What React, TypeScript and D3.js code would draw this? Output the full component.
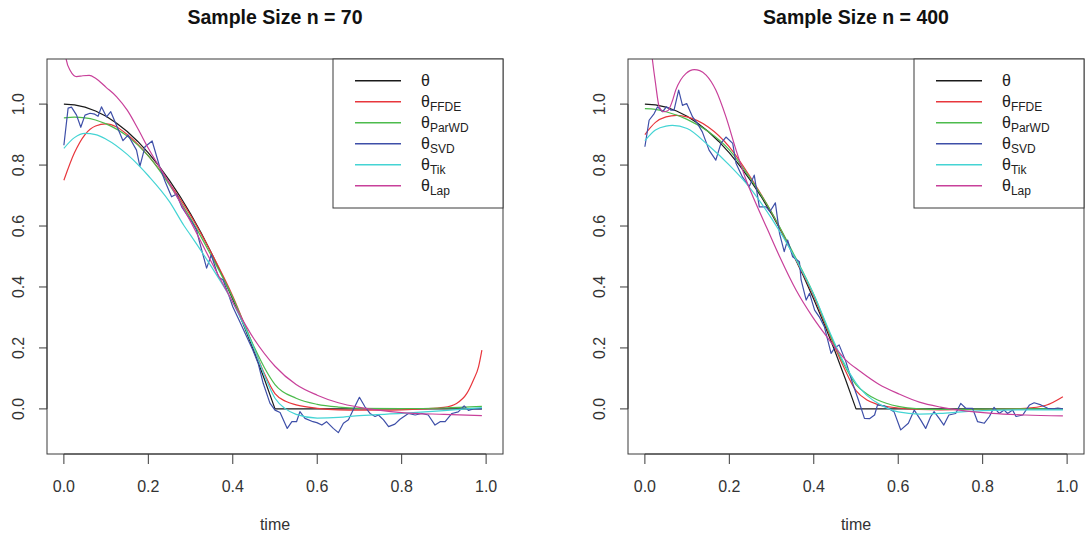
import React from "react";
import * as d3 from "d3";

type P = [number, number];

const xTickValues = [0, 0.2, 0.4, 0.6, 0.8, 1.0];
const yTickValues = [0, 0.2, 0.4, 0.6, 0.8, 1.0];
const panelTitles = ["Sample Size n = 70", "Sample Size n = 400"];
const xLabel = "time";
const legendBase = "θ";
const legendSubs = ["", "FFDE", "ParWD", "SVD", "Tik", "Lap"];
const seriesColors = ["#1a1a1a", "#e8363c", "#4cbb4c", "#3e4fa8", "#44d4d4", "#c8409a"];

// true function theta
const theta: P[] = [
  [0, 1], [0.025, 0.9975], [0.05, 0.99], [0.075, 0.9775], [0.1, 0.96], [0.125, 0.9375],
  [0.15, 0.91], [0.175, 0.8775], [0.2, 0.84], [0.225, 0.7975], [0.25, 0.75], [0.275, 0.6975],
  [0.3, 0.64], [0.325, 0.5775], [0.35, 0.51], [0.375, 0.4375], [0.4, 0.36], [0.425, 0.2775],
  [0.45, 0.19], [0.475, 0.0975], [0.5, 0], [0.99, 0],
];

// ---- n = 70 ----
const ffde70: P[] = [
  [0, 0.75], [0.025, 0.84], [0.05, 0.9], [0.075, 0.928], [0.1, 0.935], [0.125, 0.925],
  [0.15, 0.9], [0.2, 0.83], [0.25, 0.74], [0.3, 0.635], [0.35, 0.51], [0.4, 0.37],
  [0.45, 0.2], [0.475, 0.115], [0.5, 0.05], [0.525, 0.025], [0.55, 0.013], [0.6, 0.002],
  [0.65, -0.003], [0.7, -0.004], [0.75, -0.004], [0.8, -0.003], [0.85, 0], [0.9, 0.005],
  [0.93, 0.018], [0.954, 0.05], [0.97, 0.095], [0.982, 0.138], [0.99, 0.193],
];
const parwd70: P[] = [
  [0, 0.955], [0.025, 0.957], [0.05, 0.955], [0.075, 0.948], [0.1, 0.935], [0.15, 0.895],
  [0.2, 0.83], [0.25, 0.735], [0.3, 0.625], [0.35, 0.5], [0.4, 0.365], [0.45, 0.205],
  [0.475, 0.135], [0.5, 0.08], [0.55, 0.035], [0.6, 0.015], [0.65, 0.006], [0.7, 0.002],
  [0.8, 0.001], [0.9, 0.003], [0.99, 0.008],
];
const svd70: P[] = [
  [0.0, 0.865], [0.01, 0.987], [0.018, 0.99], [0.03, 0.964], [0.04, 0.924], [0.05, 0.964],
  [0.062, 0.97], [0.073, 0.967], [0.081, 0.96], [0.089, 0.991], [0.101, 0.958], [0.111, 0.975],
  [0.121, 0.942], [0.14, 0.88], [0.152, 0.898], [0.172, 0.849], [0.18, 0.796], [0.192, 0.86],
  [0.209, 0.879], [0.227, 0.794], [0.24, 0.745], [0.255, 0.696], [0.267, 0.705], [0.279, 0.663],
  [0.29, 0.64], [0.303, 0.614], [0.314, 0.587], [0.322, 0.544], [0.338, 0.462], [0.349, 0.505],
  [0.366, 0.433], [0.377, 0.423], [0.39, 0.375], [0.4, 0.335], [0.417, 0.285], [0.433, 0.237],
  [0.447, 0.195], [0.46, 0.15], [0.472, 0.084], [0.488, 0.019], [0.5, -0.004], [0.512, -0.012],
  [0.529, -0.064], [0.54, -0.042], [0.551, -0.042], [0.559, -0.009], [0.571, -0.031], [0.59, -0.042],
  [0.599, -0.045], [0.611, -0.053], [0.622, -0.042], [0.638, -0.064], [0.65, -0.078], [0.662, -0.047],
  [0.674, -0.036], [0.685, -0.004], [0.7, 0.038], [0.713, 0.007], [0.725, -0.015], [0.737, -0.025],
  [0.745, -0.02], [0.757, -0.036], [0.769, -0.058], [0.784, -0.05], [0.796, -0.034], [0.816, -0.015],
  [0.832, -0.02], [0.848, -0.015], [0.863, -0.02], [0.879, -0.053], [0.891, -0.042], [0.903, -0.042],
  [0.919, -0.015], [0.934, -0.01], [0.948, 0.01], [0.958, -0.005], [0.97, 0.0], [0.99, 0.0],
];
const tik70: P[] = [
  [0, 0.855], [0.025, 0.89], [0.05, 0.904], [0.075, 0.9], [0.1, 0.885], [0.15, 0.835],
  [0.18, 0.795], [0.2, 0.765], [0.25, 0.68], [0.285, 0.6], [0.3, 0.57], [0.35, 0.465],
  [0.4, 0.35], [0.45, 0.2], [0.475, 0.11], [0.5, 0.035], [0.525, 0.0], [0.55, -0.018],
  [0.6, -0.03], [0.65, -0.028], [0.7, -0.022], [0.8, -0.015], [0.9, -0.006], [0.99, 0.004],
];
const lap70: P[] = [
  [0, 1.2], [0.005, 1.15], [0.015, 1.11], [0.03, 1.09], [0.045, 1.093], [0.06, 1.094],
  [0.075, 1.085], [0.1, 1.055], [0.125, 1.024], [0.15, 0.98], [0.175, 0.92], [0.2, 0.855],
  [0.25, 0.74], [0.3, 0.615], [0.35, 0.48], [0.4, 0.35], [0.45, 0.23], [0.5, 0.14],
  [0.55, 0.08], [0.6, 0.045], [0.65, 0.02], [0.7, 0.005], [0.75, -0.005], [0.8, -0.012],
  [0.9, -0.018], [0.99, -0.022],
];

// ---- n = 400 ----
const ffde400: P[] = [
  [0, 0.9], [0.025, 0.94], [0.05, 0.958], [0.075, 0.963], [0.1, 0.958], [0.15, 0.925],
  [0.2, 0.86], [0.25, 0.76], [0.3, 0.645], [0.35, 0.51], [0.4, 0.37], [0.44, 0.235],
  [0.47, 0.14], [0.5, 0.06], [0.525, 0.03], [0.55, 0.015], [0.6, 0.003], [0.65, -0.002],
  [0.7, -0.003], [0.8, -0.002], [0.9, 0.002], [0.95, 0.012], [0.99, 0.04],
];
const parwd400: P[] = [
  [0, 0.985], [0.025, 0.983], [0.05, 0.975], [0.1, 0.95], [0.15, 0.91], [0.2, 0.85],
  [0.25, 0.755], [0.3, 0.645], [0.35, 0.515], [0.4, 0.375], [0.44, 0.24], [0.47, 0.15],
  [0.5, 0.08], [0.525, 0.05], [0.55, 0.03], [0.6, 0.008], [0.65, 0.0], [0.7, -0.002],
  [0.8, -0.001], [0.9, 0.0], [0.99, 0.0],
];
const svd400: P[] = [
  [0, 0.86], [0.01, 0.947], [0.022, 0.969], [0.03, 0.991], [0.042, 0.975], [0.051, 0.991],
  [0.062, 0.98], [0.069, 0.98], [0.08, 1.046], [0.089, 0.996], [0.099, 1.002], [0.113, 0.958],
  [0.125, 0.935], [0.136, 0.909], [0.152, 0.849], [0.168, 0.816], [0.18, 0.871], [0.192, 0.892],
  [0.208, 0.871], [0.216, 0.805], [0.231, 0.761], [0.247, 0.729], [0.259, 0.767], [0.271, 0.663],
  [0.287, 0.663], [0.296, 0.647], [0.309, 0.676], [0.319, 0.575], [0.33, 0.516], [0.338, 0.554],
  [0.35, 0.499], [0.366, 0.483], [0.37, 0.423], [0.382, 0.357], [0.39, 0.379], [0.402, 0.324],
  [0.413, 0.302], [0.425, 0.27], [0.441, 0.182], [0.449, 0.199], [0.46, 0.21], [0.476, 0.155],
  [0.492, 0.084], [0.508, 0.02], [0.52, -0.031], [0.532, -0.032], [0.544, -0.02], [0.551, 0.013],
  [0.567, 0.01], [0.579, 0.0], [0.59, -0.009], [0.606, -0.069], [0.624, -0.047], [0.638, -0.004],
  [0.653, -0.036], [0.665, -0.064], [0.677, -0.025], [0.685, -0.009], [0.697, -0.031], [0.708, -0.053],
  [0.72, -0.02], [0.736, -0.015], [0.748, 0.018], [0.76, 0.002], [0.776, 0.002], [0.788, -0.042],
  [0.804, -0.047], [0.816, -0.025], [0.827, 0.005], [0.839, -0.015], [0.851, -0.004], [0.859, -0.015],
  [0.871, -0.004], [0.879, -0.025], [0.895, -0.02], [0.911, 0.013], [0.922, 0.02], [0.938, 0.013],
  [0.954, 0.002], [0.966, 0.0], [0.978, 0.003], [0.99, 0.0],
];
const tik400: P[] = [
  [0, 0.88], [0.025, 0.915], [0.05, 0.928], [0.065, 0.93], [0.1, 0.92], [0.15, 0.865],
  [0.2, 0.8], [0.24, 0.74], [0.3, 0.625], [0.35, 0.51], [0.4, 0.375], [0.44, 0.245],
  [0.47, 0.155], [0.5, 0.085], [0.525, 0.045], [0.55, 0.02], [0.6, -0.01], [0.65, -0.017],
  [0.7, -0.015], [0.75, -0.01], [0.8, -0.006], [0.9, -0.003], [0.99, -0.003],
];
const lap400: P[] = [
  [0, 1.4], [0.018, 1.144], [0.025, 1.07], [0.034, 0.991], [0.045, 0.975], [0.054, 0.978],
  [0.065, 1.01], [0.073, 1.046], [0.085, 1.08], [0.097, 1.1], [0.117, 1.113], [0.13, 1.11],
  [0.145, 1.095], [0.168, 1.046], [0.192, 0.958], [0.216, 0.849], [0.24, 0.75], [0.263, 0.674],
  [0.29, 0.59], [0.319, 0.5], [0.358, 0.39], [0.397, 0.302], [0.437, 0.226], [0.476, 0.16],
  [0.508, 0.125], [0.555, 0.08], [0.6, 0.05], [0.65, 0.022], [0.7, 0.006], [0.745, -0.004],
  [0.823, -0.015], [0.9, -0.02], [0.99, -0.023],
];

const W = 1087;
const H = 541;
const TOP = 59;
const BOTTOM = 454;
const FONT = "'Liberation Sans', Arial, Helvetica, sans-serif";
const AXIS_COLOR = "#3a3a3a";

const panels = [
  { left: 47, right: 503, title: panelTitles[0], series: [theta, ffde70, parwd70, svd70, tik70, lap70] },
  { left: 628, right: 1084, title: panelTitles[1], series: [theta, ffde400, parwd400, svd400, tik400, lap400] },
];

function Panel({ p, idx }: { p: (typeof panels)[number]; idx: number }) {
  const x = d3.scaleLinear().domain([-0.04, 1.04]).range([p.left, p.right]);
  const y = d3.scaleLinear().domain([-0.148, 1.148]).range([BOTTOM, TOP]);
  const clipId = `clip-${idx}`;
  const cx = (p.left + p.right) / 2;
  const legW = 170;
  const legX = p.right - legW;
  const legH = 149;
  return (
    <g>
      <defs>
        <clipPath id={clipId}>
          <rect x={p.left} y={TOP} width={p.right - p.left} height={BOTTOM - TOP} />
        </clipPath>
      </defs>
      <text x={cx} y={24} textAnchor="middle" fontFamily={FONT} fontWeight="bold" fontSize={19.5} fill="#111">
        {p.title}
      </text>
      <g clipPath={`url(#${clipId})`}>
        {p.series.map((s, i) => {
          const gen = d3
            .line<P>()
            .x((d) => x(d[0]))
            .y((d) => y(d[1]))
            .curve(i === 0 || i === 3 ? d3.curveLinear : d3.curveMonotoneX);
          return (
            <path key={i} d={gen(s) || ""} fill="none" stroke={seriesColors[i]} strokeWidth={1.2} strokeLinejoin="round" />
          );
        })}
      </g>
      <rect x={p.left} y={TOP} width={p.right - p.left} height={BOTTOM - TOP} fill="none" stroke={AXIS_COLOR} strokeWidth={1} />
      {/* x axis */}
      <line x1={x(0)} x2={x(1)} y1={BOTTOM} y2={BOTTOM} stroke={AXIS_COLOR} />
      {xTickValues.map((t) => (
        <g key={t}>
          <line x1={x(t)} x2={x(t)} y1={BOTTOM} y2={BOTTOM + 10} stroke={AXIS_COLOR} />
          <text x={x(t)} y={492} textAnchor="middle" fontFamily={FONT} fontSize={16} fill="#333">
            {t.toFixed(1)}
          </text>
        </g>
      ))}
      <text x={cx} y={530} textAnchor="middle" fontFamily={FONT} fontSize={16} fill="#333">
        {xLabel}
      </text>
      {/* y axis */}
      <line x1={p.left} x2={p.left} y1={y(0)} y2={y(1)} stroke={AXIS_COLOR} />
      {yTickValues.map((t) => (
        <g key={t}>
          <line x1={p.left - 8} x2={p.left} y1={y(t)} y2={y(t)} stroke={AXIS_COLOR} />
          <text
            transform={`translate(${p.left - 23},${y(t)}) rotate(-90)`}
            textAnchor="middle"
            fontFamily={FONT}
            fontSize={16}
            fill="#333"
          >
            {t.toFixed(1)}
          </text>
        </g>
      ))}
      {/* legend */}
      <rect x={legX} y={TOP} width={legW} height={legH} fill="white" stroke={AXIS_COLOR} strokeWidth={1} />
      {legendSubs.map((sub, i) => {
        const ry = TOP + 21.7 + i * 21;
        return (
          <g key={i}>
            <line x1={legX + 22} x2={legX + 68} y1={ry} y2={ry} stroke={seriesColors[i]} strokeWidth={1.5} />
            <text x={legX + 88} y={ry + 5.5} fontFamily={FONT} fontSize={16} fill="#222">
              {legendBase}
              {sub && (
                <tspan fontSize={12} dy={4}>
                  {sub}
                </tspan>
              )}
            </text>
          </g>
        );
      })}
    </g>
  );
}

export default function App() {
  return (
    <svg
      width={W}
      height={H}
      viewBox={`0 0 ${W} ${H}`}
      style={{ position: "absolute", left: 0, top: 0, background: "white" }}
    >
      <rect x={0} y={0} width={W} height={H} fill="white" />
      {panels.map((p, i) => (
        <Panel key={i} p={p} idx={i} />
      ))}
    </svg>
  );
}
